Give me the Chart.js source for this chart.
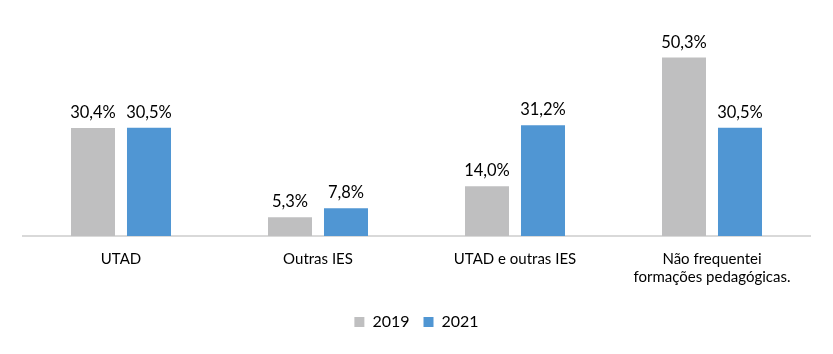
<!DOCTYPE html>
<html><head><meta charset="utf-8">
<script src="https://cdn.jsdelivr.net/npm/chart.js@4"></script>
<style>html,body{margin:0;padding:0;background:#fff}#wrap{width:833px;height:354px}</style>
</head><body><div id="wrap"><canvas id="c" width="833" height="354"></canvas></div>
<script>
const categories = ["UTAD", "Outras IES", "UTAD e outras IES", ["Não frequentei", "formações pedagógicas."]];
const seriesNames = ["2019", "2021"];
const values2019 = [30.4, 5.3, 14.0, 50.3];
const values2021 = [30.5, 7.8, 31.2, 30.5];

const FONT = "Lato, 'Open Sans', sans-serif";
const labelPlugin = {
  id: 'valLabels',
  afterDatasetsDraw(chart) {
    const ctx = chart.ctx;
    ctx.save();
    ctx.font = "16.5px " + FONT;
    ctx.fillStyle = "#000";
    ctx.textAlign = "center";
    ctx.textBaseline = "bottom";
    chart.data.datasets.forEach((ds, i) => {
      chart.getDatasetMeta(i).data.forEach((bar, j) => {
        ctx.fillText(ds.data[j].toFixed(1).replace('.', ',') + '%', bar.x, bar.y - 7);
      });
    });
    ctx.restore();
  }
};

new Chart(document.getElementById('c'), {
  type: 'bar',
  data: {
    labels: categories,
    datasets: [
      {label: seriesNames[0], data: values2019, backgroundColor: '#BFBFC0', categoryPercentage: 0.5685, barPercentage: 0.786},
      {label: seriesNames[1], data: values2021, backgroundColor: '#5096D3', categoryPercentage: 0.5685, barPercentage: 0.786}
    ]
  },
  options: {
    responsive: false,
    animation: false,
    devicePixelRatio: 1,
    layout: {padding: {left: 22.5, right: 22.5, top: 23, bottom: 14}},
    plugins: {
      legend: {
        position: 'bottom',
        labels: {boxWidth: 10, boxHeight: 10, color: '#000', font: {family: FONT, size: 16}, padding: 14}
      },
      tooltip: {enabled: false}
    },
    scales: {
      x: {
        grid: {display: false, drawTicks: false},
        border: {color: '#D9D9D9', width: 2},
        ticks: {color: '#000', font: {family: FONT, size: 15}, padding: 14, maxRotation: 0, autoSkip: false}
      },
      y: {
        display: false, min: 0, max: 60
      }
    }
  },
  plugins: [labelPlugin]
});
</script></body></html>
